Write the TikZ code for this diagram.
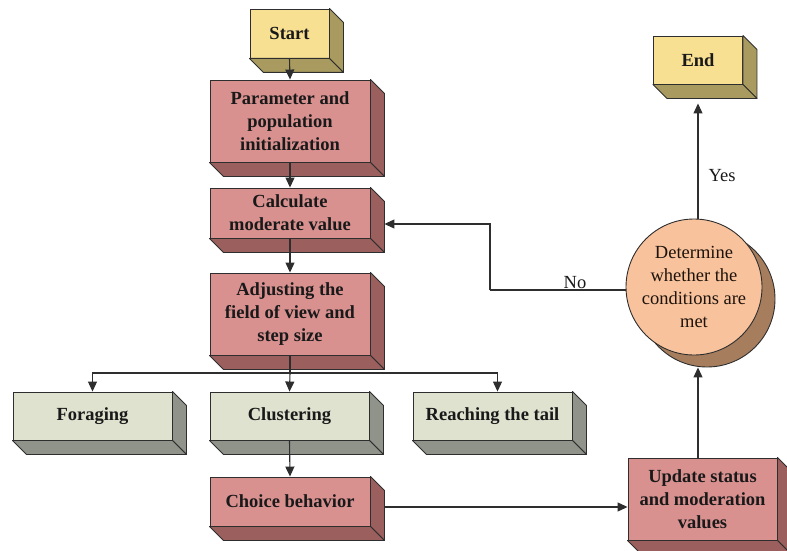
\documentclass[tikz,border=0pt]{standalone}
\usepackage{fontspec}
\setmainfont{Liberation Serif}
\usetikzlibrary{arrows.meta,calc}
\definecolor{yfront}{HTML}{F8E092}
\definecolor{yside}{HTML}{A99B5F}
\definecolor{pfront}{HTML}{D99190}
\definecolor{pside}{HTML}{9B605E}
\definecolor{gfront}{HTML}{DEE2CF}
\definecolor{gside}{HTML}{8F938A}
\definecolor{cfront}{HTML}{F8C29D}
\definecolor{cside}{HTML}{A67E5D}
\definecolor{linec}{HTML}{2E2E2E}
\newcommand{\depthfaces}[2]{%
  \filldraw[fill=#2,draw=linec,line width=0.9pt,line join=round]
    (#1.north east) -- ++(14,14) -- ($(#1.south east)+(14,14)$) -- (#1.south east) -- cycle;
  \filldraw[fill=#2,draw=linec,line width=0.9pt,line join=round]
    (#1.south west) -- (#1.south east) -- ($(#1.south east)+(14,14)$) -- ($(#1.south west)+(14,14)$) -- cycle;
}
\tikzset{
  box/.style={draw=linec,line width=0.9pt,inner sep=2pt,align=center,
    font=\fontsize{18.5}{23}\selectfont\bfseries,text=black!90},
  ybox/.style={box,fill=yfront},
  pbox/.style={box,fill=pfront},
  gbox/.style={box,fill=gfront},
  arr/.style={draw=linec,line width=1.1pt,-{Triangle[width=9pt,length=10pt]}},
  plainline/.style={draw=linec,line width=1.1pt},
  lab/.style={font=\fontsize{18.5}{23}\selectfont,text=black!90}
}
\begin{document}
\begin{tikzpicture}[x={(1pt,0)},y={(0,-1pt)}]
\useasboundingbox (0,0) rectangle (787,551);
% boxes
\node[ybox,minimum width=79pt,minimum height=49pt] (start) at (289.5,33.5) {Start};
\depthfaces{start}{yside}
\node[pbox,minimum width=160pt,minimum height=82pt] (param) at (290,121) {Parameter and\\population\\initialization};
\depthfaces{param}{pside}
\node[pbox,minimum width=160pt,minimum height=50pt] (calc) at (290,213) {Calculate\\moderate value};
\depthfaces{calc}{pside}
\node[pbox,minimum width=160pt,minimum height=82pt] (adjust) at (290,314) {Adjusting the\\field of view and\\step size};
\depthfaces{adjust}{pside}
\node[gbox,minimum width=159pt,minimum height=48pt] (forag) at (92.5,416) {Foraging};
\depthfaces{forag}{gside}
\node[gbox,minimum width=159pt,minimum height=48pt] (clust) at (289.5,416) {Clustering};
\depthfaces{clust}{gside}
\node[gbox,minimum width=159pt,minimum height=48pt] (reach) at (492.5,416) {Reaching the tail};
\depthfaces{reach}{gside}
\node[pbox,minimum width=160pt,minimum height=49pt] (choice) at (290,501.5) {Choice behavior};
\depthfaces{choice}{pside}
\node[pbox,minimum width=149pt,minimum height=82pt] (update) at (702.5,499) {Update status\\and moderation\\values};
\depthfaces{update}{pside}
\node[ybox,minimum width=89pt,minimum height=48pt] (end) at (698,60) {End};
\depthfaces{end}{yside}
% decision circle
\node[circle,draw=linec,line width=0.9pt,fill=cside,minimum size=136pt] (circsh) at (707,299) {};
\node[circle,draw=linec,line width=0.9pt,fill=cfront,minimum size=136pt,inner sep=0pt,align=center,
  font=\fontsize{18.5}{23}\selectfont,text=black!85!brown] (circ) at (694,287) {Determine\\whether the\\conditions are\\met};
% connectors
\draw[arr] (start.south) -- (param.north);
\draw[arr] (param.south) -- (calc.north);
\draw[arr] (calc.south) -- (adjust.north);
\coordinate (br) at (290,373);
\draw[plainline] (adjust.south) -- (br);
\draw[arr] (br) -- (clust.north);
\draw[arr] (br) -| (forag.north);
\draw[arr] (br) -| ($(reach.north)+(5,0)$);
\draw[arr] (clust.south) -- (choice.north);
\coordinate (chout) at ($(choice.east)+(14,5.5)$);
\draw[arr] (chout) -- (update.west |- chout);
\coordinate (upup) at (update.north -| end.south);
\draw[arr] (upup) -- (upup |- circsh.south);
\coordinate (calcin) at ($(calc.east)+(14,11)$);
\coordinate (noturn) at (490,290);
\draw[plainline] (circ.west |- noturn) -- (noturn);
\draw[arr] (noturn) |- (calcin);
\draw[arr] (end.south |- circ.north) -- ($(end.south)+(0,19)$);
\node[lab] (yes) at (722,176) {Yes};
\node[lab] (no) at (575,283) {No};
\end{tikzpicture}
\end{document}
